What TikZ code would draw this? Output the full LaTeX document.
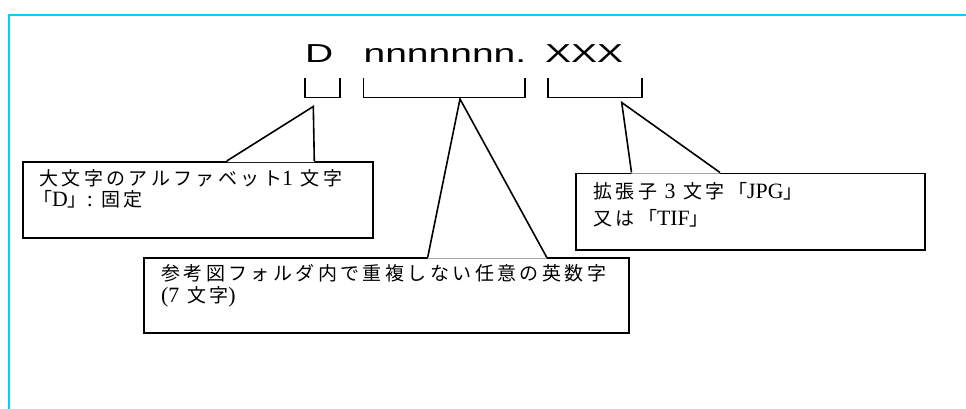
\documentclass[tikz,border=0pt]{standalone}
\usepackage{fontspec}
\usepackage{graphicx}
\setmainfont{Liberation Sans}
\newfontfamily\jpfont[LetterSpace=18]{Noto Sans CJK JP}
\newfontfamily\latfont[Scale=1.15]{Liberation Serif}
\newcommand{\lt}[1]{{\latfont #1}}
\definecolor{framecyan}{RGB}{0,208,255}
\begin{document}
\begin{tikzpicture}[x=1pt,y=-1pt,
  brk/.style={line width=1.6pt, line cap=butt, line join=miter},
  callbox/.style={draw, fill=white, line width=1.6pt, inner sep=0pt, anchor=north west},
  tail/.style={line width=1.6pt, line join=miter},
  jptext/.style={inner sep=0pt, anchor=base west, font=\jpfont\fontsize{19pt}{22pt}\selectfont},
  title/.style={inner sep=0pt, anchor=base west, font=\fontsize{26pt}{30pt}\selectfont}]
\useasboundingbox (0,0) rectangle (966,408);
\fill[white] (0,0) rectangle (966,408);
% frame
\draw[framecyan, line width=2pt] (8.7,410) -- (8.7,14.5) -- (970,14.5);
% title
\node[title] (tD) at (305,62) {\scalebox{1.5}[1]{D}};
\node[title] (tN) at (363.4,62) {\scalebox{1.5}[1]{nnnnnnn.}};
\node[title] (tX) at (545,62) {\scalebox{1.5}[1]{XXX}};
% brackets
\draw[brk] (305,78.3) -- (305,97.3) -- (340,97.3) -- (340,78.3);
\draw[brk] (363.3,78.3) -- (363.3,97.3) -- (525,97.3) -- (525,78.3);
\draw[brk] (547.7,78.3) -- (547.7,97.3) -- (641.7,97.3) -- (641.7,78.3);
% callout 1
\node[callbox, minimum width=350pt, minimum height=76pt] (b1) at (22.3,161) {};
\coordinate (p1) at (313.3,106.5);
\coordinate (b1l) at (226.7,161);
\coordinate (b1r) at (314.3,161);
\fill[white] ([yshift=-1.2pt]b1l) -- (p1) -- ([yshift=-1.2pt]b1r) -- cycle;
\draw[tail] (b1l) -- (p1) -- (b1r);
\node[jptext] (t1a) at (39,185.5) {大文字のアルファベット\lt{1} 文字};
\node[jptext] (t1b) at (33,206.5) {「\lt{D}」\lt{:}\hspace{8pt}固定};
% callout 2
\node[callbox, minimum width=485pt, minimum height=75pt] (b2) at (143.3,257.3) {};
\coordinate (p2) at (460,99);
\coordinate (b2l) at (427.7,257.3);
\coordinate (b2r) at (546.7,257.3);
\fill[white] ([yshift=-1.2pt]b2l) -- (p2) -- ([yshift=-1.2pt]b2r) -- cycle;
\draw[tail] (b2l) -- (p2) -- (b2r);
\node[jptext] (t2a) at (161,280.5) {参考図フォルダ内で重複しない任意の英数字};
\node[jptext] (t2b) at (161,302.5) {\lt{(7} 文字\lt{)}};
% callout 3
\node[callbox, minimum width=349.3pt, minimum height=76.5pt] (b3) at (575,172.5) {};
\coordinate (p3) at (621.7,102.5);
\coordinate (b3l) at (631.5,172.5);
\coordinate (b3r) at (720,172.5);
\fill[white] ([yshift=-1.2pt]b3l) -- (p3) -- ([yshift=-1.2pt]b3r) -- cycle;
\draw[tail] (b3l) -- (p3) -- (b3r);
\node[jptext] (t3a) at (593,198) {拡張子 \lt{3} 文字「\lt{JPG}」};
\node[jptext] (t3b) at (593,225) {又は「\lt{TIF}」};
\end{tikzpicture}
\end{document}
